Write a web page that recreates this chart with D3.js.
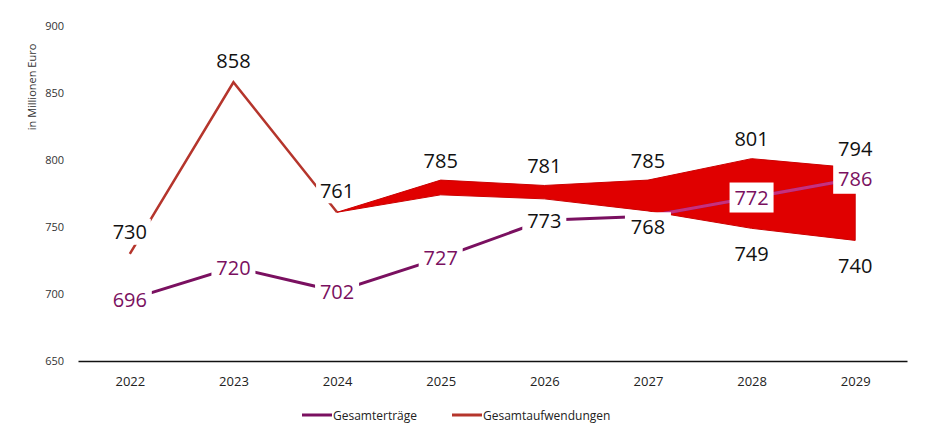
<!DOCTYPE html>
<meta charset="utf-8">
<style>
  body { margin: 0; background: #fff; }
  text { font-family: "Open Sans", sans-serif; }
</style>
<svg width="933" height="428"></svg>
<script src="https://d3js.org/d3.v7.min.js"></script>
<script>

// Jahre auf der x-Achse
const years = ["2022", "2023", "2024", "2025", "2026", "2027", "2028", "2029"];
const yTicks = [650, 700, 750, 800, 850, 900];

// Gesamterträge: Lage der Linie wie im Bild, Beschriftung wie im Bild
const ertraege = [696, 720, 702, 727, 755, 758, 772, 786];
const ertraegeLabels = ["696", "720", "702", "727", "773", "768", "772", "786"];

// Gesamtaufwendungen: Linie bis 2024, danach Spanne (oben / unten)
const aufwendungen = [730, 858, 761, null, null, null, null, null];
const spanneOben  = [null, null, 761, 785, 781, 785, 801, 794];
const spanneUnten = [null, null, 761, 774, 771, 762, 749, 740];
const untenLabels = [null, null, null, null, null, null, "749", "740"];

const legendItems = ["Gesamterträge", "Gesamtaufwendungen"];

const purple = "#7a1060";
const pink = "#c8307d";
const lineRed = "#b5352c";
const bandRed = "#e00000";

const svg = d3.select("svg");

// Skalen
const x = d3.scalePoint().domain(years).range([78, 907]).padding(0.5);
const y = d3.scaleLinear().domain([650, 900]).range([361, 26]);

// y-Achse (nur Beschriftung)
const gy = svg.append("g")
  .attr("transform", "translate(64,0)")
  .call(d3.axisLeft(y).tickValues(yTicks).tickSize(0).tickPadding(0));
gy.select(".domain").remove();
gy.selectAll("text")
  .attr("font-family", "Open Sans, sans-serif")
  .attr("font-size", "11px")
  .attr("fill", "#333");

svg.append("text")
  .attr("transform", "translate(31,87) rotate(-90)")
  .attr("text-anchor", "middle")
  .attr("dominant-baseline", "central")
  .attr("font-size", "11px")
  .attr("fill", "#333")
  .text("in Millionen Euro");

// x-Achse
const gx = svg.append("g")
  .attr("transform", "translate(0,361)")
  .call(d3.axisBottom(x).tickSize(0).tickSizeOuter(0).tickPadding(16));
gx.select(".domain").attr("stroke", "#111").attr("stroke-width", 1.6);
gx.selectAll("text")
  .attr("font-family", "Open Sans, sans-serif")
  .attr("font-size", "13px")
  .attr("fill", "#222");

// Aufwendungen-Linie
const redLine = d3.line()
  .defined(d => d.v != null)
  .x(d => x(d.year))
  .y(d => y(d.v));
svg.append("path")
  .datum(years.map((year, i) => ({year, v: aufwendungen[i]})))
  .attr("d", redLine)
  .attr("fill", "none")
  .attr("stroke", lineRed)
  .attr("stroke-width", 2.5);

// Spanne der Aufwendungen
const bandData = years.map((year, i) => ({year, hi: spanneOben[i], lo: spanneUnten[i]}))
  .filter(d => d.hi != null);
const area = d3.area()
  .x(d => x(d.year))
  .y0(d => y(d.lo))
  .y1(d => y(d.hi));
svg.append("path")
  .datum(bandData)
  .attr("d", area)
  .attr("fill", bandRed)
  .attr("stroke", "#cc0000")
  .attr("stroke-width", 1);

svg.append("clipPath").attr("id", "bandClip")
  .append("path").datum(bandData).attr("d", area);

// Erträge-Linie
const ertragData = years.map((year, i) => ({year, v: ertraege[i]}));
const pLine = d3.line().x(d => x(d.year)).y(d => y(d.v));
svg.append("path")
  .datum(ertragData)
  .attr("d", pLine)
  .attr("fill", "none")
  .attr("stroke", purple)
  .attr("stroke-width", 3);
svg.append("path")
  .datum(ertragData)
  .attr("d", pLine)
  .attr("clip-path", "url(#bandClip)")
  .attr("fill", "none")
  .attr("stroke", pink)
  .attr("stroke-width", 3);

// Beschriftungen mit weissem Hintergrund
function label(cx, cy, txt, color, w, h) {
  const g = svg.append("g").attr("transform", `translate(${cx},${cy})`);
  g.append("rect")
    .attr("x", -w / 2).attr("y", -h / 2)
    .attr("width", w).attr("height", h)
    .attr("fill", "#fff");
  g.append("text")
    .attr("text-anchor", "middle")
    .attr("dominant-baseline", "central")
    .attr("font-size", "20px")
    .attr("fill", color)
    .text(txt);
}

aufwendungen.forEach((v, i) => {
  if (v != null) label(x(years[i]), y(v) - 22, String(v), "#111", 42, 26);
});
spanneOben.forEach((v, i) => {
  if (v != null && aufwendungen[i] == null) label(x(years[i]), y(v) - 20, String(v), "#111", 42, 24);
});
untenLabels.forEach((t, i) => {
  if (t != null) label(x(years[i]), y(spanneUnten[i]) + 25, t, "#111", 42, 24);
});
// 2026/2027 schwarz beschriftet, 2027 etwas unter dem Punkt
ertraege.forEach((v, i) => {
  const yr = years[i];
  const c = (yr === "2026" || yr === "2027") ? "#111" : purple;
  if (yr === "2027") label(x(yr), y(v) + 10, ertraegeLabels[i], c, 46, 28);
  else label(x(yr), y(v), ertraegeLabels[i], c, 44, 30);
});

// Legende
const legendColors = [purple, lineRed];
const legendX = [302, 452];
legendItems.forEach((name, i) => {
  const g = svg.append("g").attr("transform", `translate(${legendX[i]},415)`);
  g.append("line")
    .attr("x1", 0).attr("x2", 30)
    .attr("stroke", legendColors[i])
    .attr("stroke-width", 3);
  g.append("text")
    .attr("x", 31)
    .attr("dominant-baseline", "central")
    .attr("font-size", "12px")
    .attr("fill", "#222")
    .text(name);
});
</script>
